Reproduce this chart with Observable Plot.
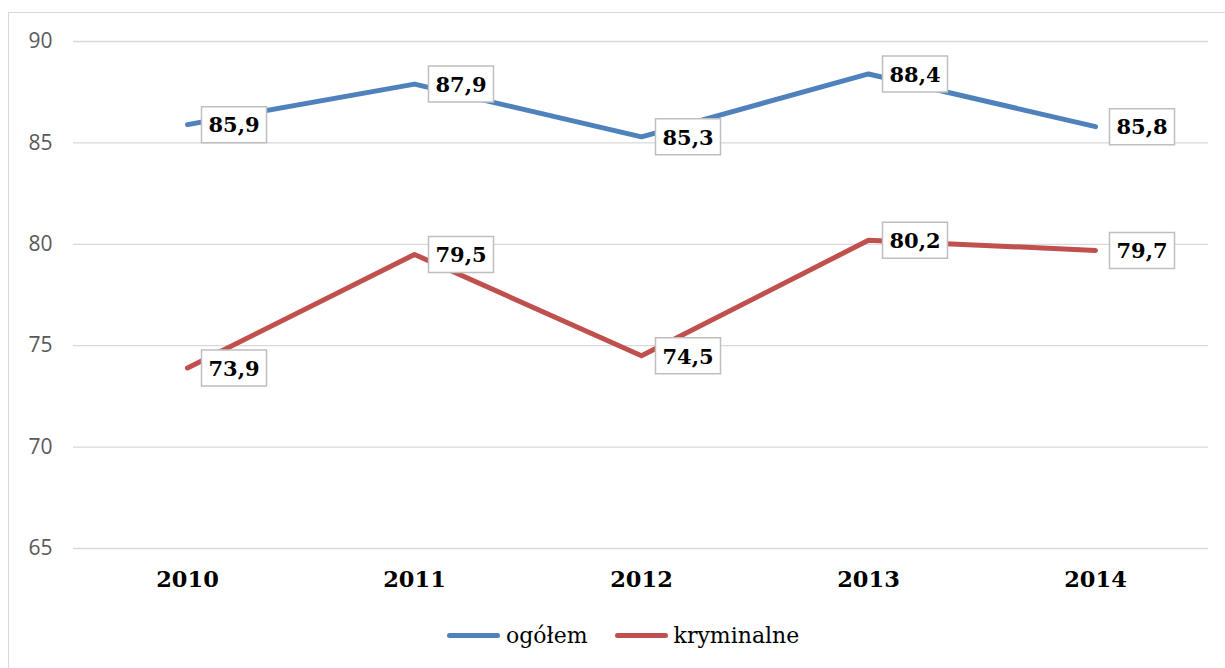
<!DOCTYPE html>
<html>
<head>
<meta charset="utf-8">
<script src="https://cdn.jsdelivr.net/npm/d3@7"></script>
<script src="https://cdn.jsdelivr.net/npm/@observablehq/plot@0.6"></script>
<style>
  html, body { margin: 0; padding: 0; background: #fff; overflow: hidden; width: 1225px; height: 668px; }
  #frame { position: absolute; left: 8px; top: 12px; width: 1230px; height: 680px; border: 1px solid #d9d9d9; box-sizing: border-box; }
  #chart { position: absolute; left: 0; top: 0; }
  #legend { position: absolute; left: 438px; top: 610px; display: flex; align-items: center; font-family: "DejaVu Serif", serif; font-size: 22px; color: #000; }
  .item { display: flex; align-items: center; margin-right: 27px; }
  .sw { width: 53px; height: 5px; border-radius: 3px; margin-right: 6px; }
</style>
</head>
<body>
<div id="frame">
  <div id="chart"></div>
  <div id="legend"></div>
</div>
<script>
const years = ["2010", "2011", "2012", "2013", "2014"];
const seriesNames = ["ogółem", "kryminalne"];
const ogolem = [85.9, 87.9, 85.3, 88.4, 85.8];
const kryminalne = [73.9, 79.5, 74.5, 80.2, 79.7];
const yTicks = [65, 70, 75, 80, 85, 90];
const colors = ["#4F81BD", "#C0504D"];

const data = [];
years.forEach((yr, i) => {
  data.push({year: yr, value: ogolem[i], series: seriesNames[0]});
  data.push({year: yr, value: kryminalne[i], series: seriesNames[1]});
});

const boxSymbol = {
  draw(context) {
    context.moveTo(-32.5, -18);
    context.lineTo(32.5, -18);
    context.lineTo(32.5, 18);
    context.lineTo(-32.5, 18);
    context.closePath();
  }
};

const fmt = v => v.toFixed(1).replace(".", ",");

const chart = Plot.plot({
  width: 1216,
  height: 600,
  marginLeft: 64,
  marginRight: 17,
  marginTop: 28,
  marginBottom: 65,
  style: {background: "transparent", overflow: "visible"},
  x: {type: "point", domain: years, padding: 0.5, label: null},
  y: {domain: [65, 90], label: null},
  color: {domain: seriesNames, range: colors},
  marks: [
    Plot.gridY(yTicks, {stroke: "#d9d9d9", strokeOpacity: 1, strokeWidth: 1.3}),
    Plot.axisY(yTicks, {tickSize: 0, tickPadding: 21, fontSize: 21, fontFamily: "'Open Sans', sans-serif", fill: "#595959", label: null}),
    Plot.axisX({tickSize: 0, tickPadding: 23, fontSize: 22.5, fontWeight: "bold", fontFamily: "'DejaVu Serif', serif", fill: "#000", label: null}),
    Plot.line(data, {x: "year", y: "value", z: "series", stroke: "series", strokeWidth: 5, strokeLinecap: "round", strokeLinejoin: "round"}),
    Plot.dot(data, {x: "year", y: "value", symbol: boxSymbol, r: 10, dx: 46.5, fill: "#fff", stroke: "#bfbfbf", strokeWidth: 1.5}),
    Plot.text(data, {x: "year", y: "value", text: d => fmt(d.value), dx: 46.5, dy: 1, fontSize: 21, fontWeight: "bold", fontFamily: "'DejaVu Serif', serif", fill: "#000"})
  ]
});
document.getElementById("chart").appendChild(chart);

const legend = document.getElementById("legend");
seriesNames.forEach((name, i) => {
  const item = document.createElement("div");
  item.className = "item";
  const sw = document.createElement("div");
  sw.className = "sw";
  sw.style.background = colors[i];
  const label = document.createElement("span");
  label.textContent = name;
  item.appendChild(sw);
  item.appendChild(label);
  legend.appendChild(item);
});
</script>
</body>
</html>
